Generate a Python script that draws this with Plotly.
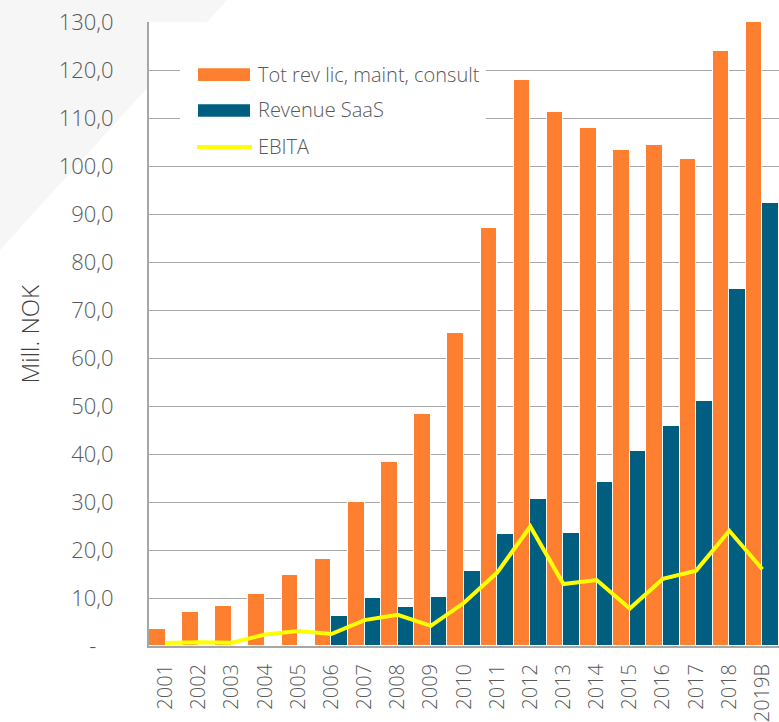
import plotly.graph_objects as go

years = ["2001", "2002", "2003", "2004", "2005", "2006", "2007", "2008", "2009", "2010",
         "2011", "2012", "2013", "2014", "2015", "2016", "2017", "2018", "2019B"]
tot_rev = [3.5, 7.1, 8.3, 10.8, 14.7, 18.1, 30.0, 38.3, 48.3, 65.2,
           87.1, 117.9, 111.2, 107.9, 103.3, 104.4, 101.5, 124.0, 130.0]
saas = [0, 0, 0, 0, 0, 6.3, 10.1, 8.1, 10.3, 15.6,
        23.3, 30.6, 23.5, 34.2, 40.6, 45.8, 51.0, 74.4, 92.3]
ebita = [0.6, 0.8, 0.7, 2.4, 3.1, 2.5, 5.4, 6.5, 4.2, 9.0,
         15.3, 24.9, 12.9, 13.75, 7.8, 14.0, 15.7, 24.0, 16.0]
ytick_vals = [0, 10, 20, 30, 40, 50, 60, 70, 80, 90, 100, 110, 120, 130]
ytick_text = ["-\u00a0\u00a0\u00a0"] + [f"{v},0" for v in ytick_vals[1:]]
legend_names = ["Tot rev lic, maint, consult", "Revenue SaaS", "EBITA"]

ORANGE = "#fe7f2f"
TEAL = "#005f80"
YELLOW = "#ffff00"
FONT = "Open Sans"

fig = go.Figure()
fig.add_trace(go.Bar(x=years, y=tot_rev, name=legend_names[0], marker=dict(color=ORANGE, line=dict(color="white", width=1))))
fig.add_trace(go.Bar(x=years, y=saas, name=legend_names[1], marker=dict(color=TEAL, line=dict(color="white", width=1))))
fig.add_trace(go.Scatter(x=years, y=ebita, name=legend_names[2], mode="lines", line=dict(color=YELLOW, width=4)))

shapes = [
    # background triangle
    dict(type="path", xref="paper", yref="paper", layer="below",
         path="M -0.2365 1.0353 L 0.1238 1.0353 L 0.0921 1.0 L 0 1.0 L 0 0.8974 L -0.2365 0.6346 Z",
         fillcolor="#f6f6f6", line=dict(width=0)),
    # legend background
    dict(type="rect", xref="paper", yref="paper", layer="above",
         x0=0.0492, x1=0.5344, y0=0.779, y1=0.955, fillcolor="white", line=dict(width=0)),
    dict(type="rect", xref="paper", yref="paper", layer="above",
         x0=0.0778, x1=0.1603, y0=0.9054, y1=0.9258, fillcolor=ORANGE, line=dict(width=0)),
    dict(type="rect", xref="paper", yref="paper", layer="above",
         x0=0.0778, x1=0.1603, y0=0.8482, y1=0.8681, fillcolor=TEAL, line=dict(width=0)),
    dict(type="line", xref="paper", yref="paper", layer="above",
         x0=0.0762, x1=0.1635, y0=0.7997, y1=0.7997, line=dict(color=YELLOW, width=4)),
]

annotations = [
    dict(text=legend_names[0], x=0.1698, y=0.9151, xref="paper", yref="paper", xanchor="left", yanchor="middle",
         showarrow=False, font=dict(family=FONT, size=20, color="#595959", weight=300)),
    dict(text=legend_names[1], x=0.1698, y=0.859, xref="paper", yref="paper", xanchor="left", yanchor="middle",
         showarrow=False, font=dict(family=FONT, size=20, color="#595959", weight=300)),
    dict(text=legend_names[2], x=0.1698, y=0.7997, xref="paper", yref="paper", xanchor="left", yanchor="middle",
         showarrow=False, font=dict(family=FONT, size=20, color="#595959", weight=300)),
    dict(text="Mill. NOK", x=-0.1897, y=0.5, xref="paper", yref="paper", xanchor="center", yanchor="middle",
         textangle=-90, showarrow=False, font=dict(family=FONT, size=24, color="#404040", weight=300)),
]

fig.update_layout(
    width=779, height=722,
    margin=dict(l=149, r=0, t=22, b=76, autoexpand=False),
    paper_bgcolor="white", plot_bgcolor="white",
    barmode="group", bargap=0, bargroupgap=0,
    showlegend=False,
    shapes=shapes, annotations=annotations,
    font=dict(family=FONT, color="#595959", weight=300),
)
fig.update_xaxes(
    type="category", tickangle=-90, tickfont=dict(size=20, color="#595959", family=FONT, weight=300),
    showline=True, linecolor="#a6a6a6", linewidth=2, showgrid=False, ticks="",
    ticklabelstandoff=8, automargin=False,
)
fig.update_yaxes(
    range=[0, 130], tickvals=ytick_vals, ticktext=ytick_text,
    tickfont=dict(size=22, color="#595959", family=FONT, weight=300),
    showline=True, linecolor="#a6a6a6", linewidth=2,
    showgrid=True, gridcolor="#a8a8a8", gridwidth=1.3, zeroline=False, ticks="",
    ticklabelstandoff=29, automargin=False,
)

fig.write_html("out.html", config={"displayModeBar": False},
               post_script="document.body.style.margin='0';document.body.style.overflow='hidden';")
